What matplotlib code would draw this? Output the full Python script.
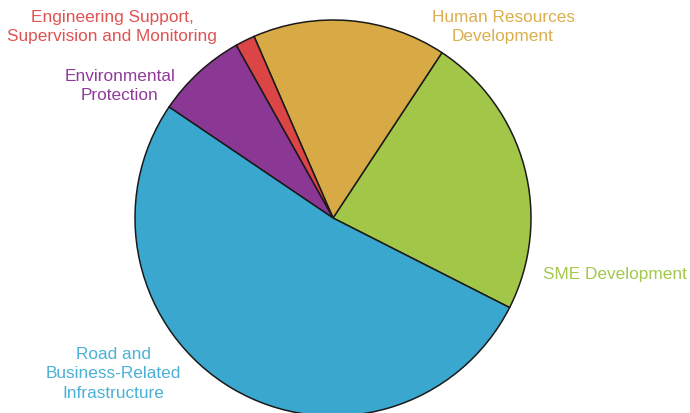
import matplotlib
matplotlib.use("Agg")
import matplotlib.pyplot as plt

categories = ["SME Development", "Human Resources\nDevelopment",
              "Engineering Support,\nSupervision and Monitoring",
              "Environmental\nProtection", "Road and\nBusiness-Related\nInfrastructure"]
shares = [23.2, 15.8, 1.6, 7.4, 52.0]
slice_colors = ["#A2C748", "#D8AA45", "#DB4545", "#8B3894", "#3AA8CE"]
text_colors = ["#A3C84E", "#DBAE4E", "#E05252", "#8E3B9A", "#4BB1D6"]

plt.rcParams['font.family'] = ['Liberation Sans', 'DejaVu Sans']

W, H = 690, 413
fig = plt.figure(figsize=(W / 100, H / 100), dpi=100)
ax = fig.add_axes([0, 0, 1, 1])

ax.pie(shares, colors=slice_colors, startangle=-26.9, counterclock=True,
       center=(333, H - 218), radius=198,
       wedgeprops=dict(edgecolor="#1a1a1a", linewidth=1.1), frame=True)
ax.set_xlim(0, W)
ax.set_ylim(0, H)
ax.set_aspect('equal')
ax.axis('off')

label_pos = [(615, 274), (503, 27), (112, 27), (120, 86), (113, 374)]
for lab, (x, y), c in zip(categories, label_pos, text_colors):
    ax.text(x, H - y, lab, ha='center', va='center', color=c,
            fontsize=12.4, linespacing=1.38, multialignment='center')

fig.savefig("out.png", dpi=100)
